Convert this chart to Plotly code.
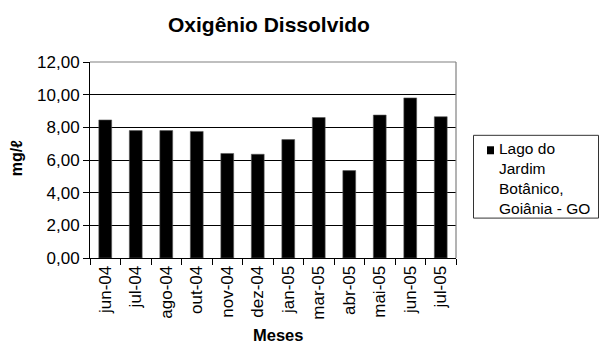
import plotly.graph_objects as go

# Dissolved oxygen, monthly means (mg/l)
meses = ["jun-04", "jul-04", "ago-04", "out-04", "nov-04", "dez-04",
         "jan-05", "mar-05", "abr-05", "mai-05", "jun-05", "jul-05"]
oxigenio = [8.45, 7.80, 7.80, 7.75, 6.40, 6.35, 7.25, 8.60, 5.35, 8.75, 9.80, 8.65]
serie = "Lago do<br>Jardim<br>Botânico,<br>Goiânia - GO"
y_ticks = [0, 2, 4, 6, 8, 10, 12]

FONT = "Liberation Sans, Arial, sans-serif"
W, H = 605, 345
L, R, T, B = 90, 456, 61.5, 258


def px_x(px):
    return (px - L) / (R - L)


def px_y(py):
    return (B - py) / (B - T)


fig = go.Figure()
fig.add_trace(go.Bar(
    x=meses, y=oxigenio, name=serie, showlegend=False,
    marker=dict(color="black", line=dict(color="#555555", width=0.6)),
))

# legend box drawn by hand so it sits outside the plot without moving it
legend_shapes = [
    dict(type="rect", xref="paper", yref="paper",
         x0=px_x(473.5), x1=px_x(598.5), y0=px_y(218), y1=px_y(135),
         line=dict(color="#333333", width=1), fillcolor="white"),
    dict(type="rect", xref="paper", yref="paper",
         x0=px_x(487), x1=px_x(494), y0=px_y(154), y1=px_y(146),
         line=dict(width=0), fillcolor="black"),
]

fig.update_layout(
    width=W, height=H,
    margin=dict(l=L, r=W - R, t=T, b=H - B, pad=0, autoexpand=False),
    paper_bgcolor="white", plot_bgcolor="white",
    separators=",.",
    bargap=0.58,
    font=dict(family=FONT, size=16, color="black"),
    showlegend=False,
    xaxis=dict(
        type="category", tickangle=-90,
        ticks="outside", ticklen=6, tickcolor="black", tickwidth=1,
        tickson="boundaries",
        showline=True, linecolor="black", linewidth=1,
        showgrid=False,
        tickfont=dict(family=FONT, size=17, color="black"),
    ),
    yaxis=dict(
        range=[0, 12], tickvals=y_ticks, tickformat=".2f",
        ticks="outside", ticklen=6, tickcolor="black", tickwidth=1,
        showline=True, linecolor="black", linewidth=1,
        showgrid=True, gridcolor="black", gridwidth=1,
        zeroline=False,
        tickfont=dict(family=FONT, size=17, color="black"),
    ),
    shapes=[
        # grey plot-area frame along the top and right edges
        dict(type="line", xref="paper", yref="paper", x0=0, x1=1, y0=1, y1=1,
             line=dict(color="#808080", width=1.2), layer="above"),
        dict(type="line", xref="paper", yref="paper", x0=1, x1=1, y0=0, y1=1,
             line=dict(color="#808080", width=1.2), layer="above"),
    ] + legend_shapes,
    annotations=[
        dict(text="<b>Oxigênio Dissolvido</b>", xref="paper", yref="paper",
             x=px_x(269), y=px_y(24), xanchor="center", yanchor="middle",
             showarrow=False, font=dict(family=FONT, size=21, color="black")),
        dict(text="<b>Meses</b>", xref="paper", yref="paper",
             x=px_x(277.5), y=px_y(335), xanchor="center", yanchor="middle",
             showarrow=False, font=dict(family=FONT, size=16.5, color="black")),
        dict(text="<b>mg/ℓ</b>", xref="paper", yref="paper",
             x=px_x(16), y=px_y(158), xanchor="center", yanchor="middle",
             textangle=-90, showarrow=False,
             font=dict(family=FONT, size=16, color="black")),
        dict(text=serie, xref="paper", yref="paper",
             x=px_x(497), y=px_y(178), xanchor="left", yanchor="middle",
             align="left", showarrow=False,
             font=dict(family=FONT, size=15.5, color="black")),
    ],
)

fig.write_html("out.html")
